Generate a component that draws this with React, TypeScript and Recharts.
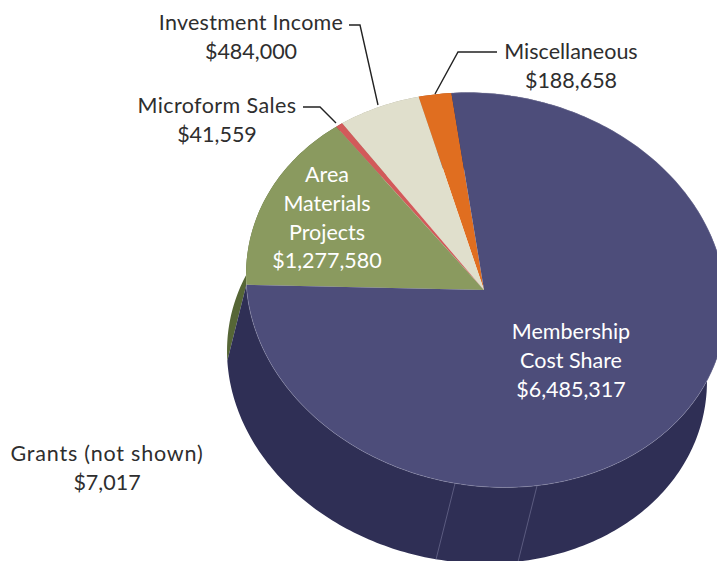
import { PieChart, Pie } from 'recharts'

const categories = ['Miscellaneous', 'Investment Income', 'Microform Sales', 'Area Materials Projects', 'Membership Cost Share']
const amounts = [188658, 484000, 41559, 1277580, 6485317]
const topColors = ['#e06e20', '#e0dfcc', '#d25a5a', '#8a9a5f', '#4d4d7a']
const wallColors = ['#a84f15', '#a8a795', '#9a3f3f', '#566636', '#2f2f55']
const wallSeams = [271.3, 291]

const data = categories.map((name, i) => ({ name, value: amounts[i], fill: topColors[i], wall: wallColors[i] }))

const font = 'Lato, sans-serif'
const radius = 241.4
const squash = 195.7 / radius
const tilt = (10.7 * Math.PI) / 180
const rimShift = 2
const depth = { x: -19, y: 76 }

// point on the tilted rim, angle in degrees the same way recharts counts them
const rim = (cx: number, cy: number, r: number, deg: number) => {
  const a = (deg * Math.PI) / 180
  const x = r * Math.cos(a)
  const y = -r * squash * Math.sin(a)
  return {
    x: cx + rimShift + x * Math.cos(tilt) - y * Math.sin(tilt),
    y: cy + x * Math.sin(tilt) + y * Math.cos(tilt),
  }
}

const arcPoints = (p: any) => {
  const from = Math.min(p.startAngle, p.endAngle)
  const to = Math.max(p.startAngle, p.endAngle)
  const pts = []
  for (let d = from; d < to; d += 1) pts.push(rim(p.cx, p.cy, p.outerRadius, d))
  pts.push(rim(p.cx, p.cy, p.outerRadius, to))
  return pts
}

const toPath = (pts: { x: number; y: number }[]) =>
  pts.map((q, i) => `${i ? 'L' : 'M'}${q.x.toFixed(2)},${q.y.toFixed(2)}`).join(' ')

const TopSlice = (p: any) => {
  const pts = arcPoints(p)
  return (
    <g>
      <path d={`${toPath(pts)} L${p.cx},${p.cy} Z`} fill={p.fill} stroke="none" />
      <path d={toPath(pts)} fill="none" stroke="#a5a5c0" strokeOpacity={p.index === 4 ? 0.5 : 0} strokeWidth={0.7} />
    </g>
  )
}

const WallSlice = (p: any) => {
  const pts = arcPoints(p)
  const low = pts.map((q) => ({ x: q.x + depth.x, y: q.y + depth.y })).reverse()
  const from = Math.min(p.startAngle, p.endAngle)
  const to = Math.max(p.startAngle, p.endAngle)
  return (
    <g>
      <path d={`${toPath(pts)} ${toPath(low).replace('M', 'L')} Z`} fill={p.payload?.wall ?? p.wall} stroke="none" />
      {wallSeams
        .filter((s) => s >= from && s <= to)
        .map((s) => {
          const q = rim(p.cx, p.cy, p.outerRadius, s)
          return <line key={s} x1={q.x} y1={q.y} x2={q.x + depth.x} y2={q.y + depth.y} stroke="#6f6f92" strokeWidth={0.7} />
        })}
    </g>
  )
}

const Label = ({ x, y, lines, color = '#2e2e2e', spacing = 0 }: { x: number; y: number; lines: string[]; color?: string; spacing?: number }) => (
  <text x={x} y={y} textAnchor="middle" fontFamily={font} fontSize={21.5} fill={color}>
    {lines.map((l, i) => (
      <tspan key={l} x={x} dy={i ? 28.8 : 0} letterSpacing={i ? 0 : spacing}>
        {l}
      </tspan>
    ))}
  </text>
)

const leader = { fill: 'none', stroke: '#222222', strokeWidth: 1.4 }

export default function App() {
  return (
    <div style={{ position: 'absolute', left: 0, top: 0, width: 717, height: 561, overflow: 'hidden', background: '#fff' }}>
      <PieChart width={717} height={561} margin={{ top: 0, right: 0, bottom: 0, left: 0 }}>
        <Pie
          data={data}
          dataKey="value"
          cx={484}
          cy={290}
          innerRadius={0}
          outerRadius={radius}
          startAngle={107}
          endAngle={467}
          stroke="none"
          shape={WallSlice}
          isAnimationActive={false}
        />
        <Pie
          data={data}
          dataKey="value"
          cx={484}
          cy={290}
          innerRadius={0}
          outerRadius={radius}
          startAngle={107}
          endAngle={467}
          stroke="none"
          shape={TopSlice}
          isAnimationActive={false}
        />
      </PieChart>
      {/* labels sit in their own svg, recharts paints pies above plain children */}
      <svg width={717} height={561} style={{ position: 'absolute', left: 0, top: 0 }}>
        <polyline points="349,25 360,25 378,105" {...leader} />
        <polyline points="497,52 458,52 435,94" {...leader} />
        <polyline points="303,107 320,107 336,123" {...leader} />
        <Label x={251} y={30} lines={['Investment Income', '$484,000']} spacing={0.25} />
        <Label x={571} y={59} lines={['Miscellaneous', '$188,658']} />
        <Label x={217} y={113} lines={['Microform Sales', '$41,559']} spacing={0.4} />
        <Label x={107} y={461} lines={['Grants (not shown)', '$7,017']} spacing={0.8} />
        <Label x={327} y={182} lines={['Area', 'Materials', 'Projects', '$1,277,580']} color="#ffffff" />
        <Label x={571} y={339} lines={['Membership', 'Cost Share', '$6,485,317']} color="#ffffff" />
      </svg>
    </div>
  )
}
